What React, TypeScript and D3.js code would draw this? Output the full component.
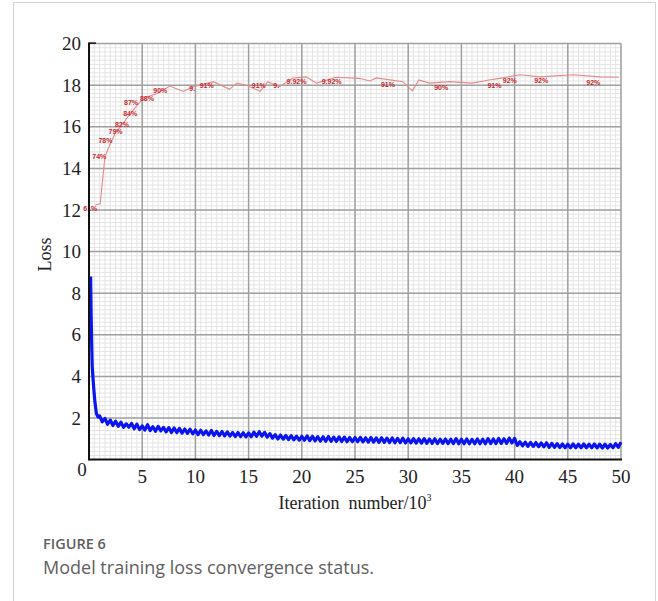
import React, { useEffect, useRef } from "react";
import * as d3 from "d3";

// loss curve: steep drop at the start, then a noisy tail sampled every 0.25k iterations
const headIter = [0.15, 0.2, 0.25, 0.3, 0.35, 0.45, 0.55, 0.7, 0.85];
const headLoss = [8.8, 7.0, 5.6, 4.5, 4.1, 3.4, 2.8, 2.2, 2.05];
const tailStart = 1.0;
const tailStep = 0.25;
const tailLoss = [
  2.1, 1.82, 1.98, 1.7, 1.9, 1.64, 1.85, 1.6, 1.8, 1.55, 1.72, 1.56, 1.74, 1.48, 1.7, 1.44,
  1.62, 1.42, 1.68, 1.4, 1.58, 1.36, 1.6, 1.38, 1.55, 1.33, 1.54, 1.3, 1.52, 1.3, 1.5, 1.27,
  1.47, 1.26, 1.46, 1.24, 1.42, 1.2, 1.41, 1.2, 1.38, 1.18, 1.4, 1.16, 1.36, 1.15, 1.35, 1.14,
  1.33, 1.13, 1.3, 1.11, 1.3, 1.1, 1.29, 1.09, 1.28, 1.1, 1.32, 1.12, 1.34, 1.13, 1.31, 1.08,
  1.25, 1.03, 1.2, 0.99, 1.18, 0.98, 1.16, 0.96, 1.15, 0.95, 1.13, 0.93, 1.12, 0.93, 1.14, 0.91,
  1.12, 0.9, 1.1, 0.89, 1.1, 0.88, 1.11, 0.88, 1.08, 0.87, 1.09, 0.87, 1.08, 0.86, 1.06, 0.86,
  1.06, 0.86, 1.07, 0.85, 1.05, 0.84, 1.06, 0.84, 1.04, 0.83, 1.05, 0.83, 1.03, 0.82, 1.04, 0.81,
  1.02, 0.81, 1.03, 0.8, 1.0, 0.8, 1.01, 0.79, 1.0, 0.79, 1.01, 0.78, 0.99, 0.78, 1.0, 0.77,
  0.98, 0.78, 0.99, 0.77, 0.98, 0.77, 1.01, 0.76, 0.98, 0.76, 0.99, 0.76, 0.97, 0.76, 0.99, 0.76,
  0.98, 0.76, 1.01, 0.77, 0.99, 0.77, 1.02, 0.78, 1.0, 0.78, 1.03, 0.8, 1.02, 0.68, 0.86, 0.66,
  0.84, 0.64, 0.83, 0.63, 0.82, 0.62, 0.8, 0.61, 0.81, 0.59, 0.78, 0.59, 0.76, 0.58, 0.75, 0.57,
  0.74, 0.57, 0.75, 0.57, 0.74, 0.57, 0.75, 0.57, 0.74, 0.57, 0.75, 0.56, 0.74, 0.56, 0.74, 0.56,
  0.73, 0.57, 0.77, 0.59, 0.84,
];

// accuracy trace drawn on the loss scale
const accIter = [
  0.6, 1.05, 1.5, 2.0, 2.5, 3.1, 3.9, 4.8, 5.5, 6.4, 7.6, 8.85, 9.8, 11.7, 13.2, 13.9, 14.8,
  16.1, 16.8, 17.9, 19.2, 20.4, 21.4, 23.2, 25.4, 26.4, 27.0, 29.5, 30.4, 31.0, 32.0, 33.9,
  36.0, 37.6, 38.6, 40.5, 42.4, 45.5, 48.0, 49.8,
];
const accVal = [
  12.25, 12.3, 14.56, 15.2, 15.7, 16.1, 16.65, 17.2, 17.45, 17.6, 17.96, 17.7, 17.93, 18.17,
  17.8, 18.1, 18.0, 17.7, 18.17, 17.93, 18.35, 18.4, 18.1, 18.38, 18.33, 18.2, 18.35, 18.17,
  17.73, 18.25, 18.1, 18.17, 18.1, 18.25, 18.33, 18.5, 18.4, 18.5, 18.4, 18.38,
];

const accLabels = [
  "61%", "74%", "78%", "79%", "82%", "84%", "87%", "88%", "90%", "9.", "91%", "91%", "9.",
  "9.92%", "9.92%", "91%", "90%", "91%", "92%", "92%", "92%",
];
const accLabelX = [
  0.12, 0.97, 1.55, 2.5, 3.1, 3.87, 3.95, 5.45, 6.7, 9.7, 11.06, 15.96, 17.6, 19.5, 22.8, 28.1,
  33.1, 38.1, 39.55, 42.5, 47.4,
];
const accLabelY = [
  12.03, 14.55, 15.3, 15.72, 16.1, 16.6, 17.16, 17.33, 17.72, 17.82, 17.93, 17.96, 17.95,
  18.17, 18.17, 18.0, 17.85, 17.96, 18.2, 18.2, 18.12,
];

const xTicks = [5, 10, 15, 20, 25, 30, 35, 40, 45, 50];
const yTicks = [2, 4, 6, 8, 10, 12, 14, 16, 18, 20];

const App = () => {
  const ref = useRef<SVGSVGElement | null>(null);

  useEffect(() => {
    const width = 658;
    const height = 601;
    const left = 89;
    const right = 621;
    const top = 43.6;
    const bottom = 459.6;

    const svg = d3.select(ref.current);
    svg.selectAll("*").remove();

    const x = d3.scaleLinear().domain([0, 50]).range([left, right]);
    const y = d3.scaleLinear().domain([0, 20]).range([bottom, top]);

    // outer frame
    svg
      .append("rect")
      .attr("x", 13.5)
      .attr("y", 2.5)
      .attr("width", 642)
      .attr("height", height + 20)
      .attr("fill", "white")
      .attr("stroke", "#d4d4d4");

    // minor grid
    const grid = svg.append("g");
    grid
      .selectAll(".vx")
      .data(d3.range(0, 50.01, 0.5))
      .join("line")
      .attr("x1", (d) => x(d))
      .attr("x2", (d) => x(d))
      .attr("y1", top)
      .attr("y2", bottom)
      .attr("stroke", "#e4e4e4")
      .attr("stroke-width", 1);
    grid
      .selectAll(".hy")
      .data(d3.range(0, 20.01, 0.2))
      .join("line")
      .attr("x1", left)
      .attr("x2", right)
      .attr("y1", (d) => y(d))
      .attr("y2", (d) => y(d))
      .attr("stroke", "#e4e4e4")
      .attr("stroke-width", 1);

    // major grid
    grid
      .selectAll(".mx")
      .data(xTicks)
      .join("line")
      .attr("x1", (d) => x(d))
      .attr("x2", (d) => x(d))
      .attr("y1", top)
      .attr("y2", bottom)
      .attr("stroke", "#a0a0a0")
      .attr("stroke-width", 1.5);
    grid
      .selectAll(".my")
      .data(yTicks)
      .join("line")
      .attr("x1", left)
      .attr("x2", right)
      .attr("y1", (d) => y(d))
      .attr("y2", (d) => y(d))
      .attr("stroke", "#a0a0a0")
      .attr("stroke-width", 1.5);

    // loss line
    const lossPts: [number, number][] = headIter.map((d, i) => [d, headLoss[i]]);
    tailLoss.forEach((v, i) => lossPts.push([tailStart + i * tailStep, v]));
    svg
      .append("path")
      .datum(lossPts)
      .attr("fill", "none")
      .attr("stroke", "#0a14f0")
      .attr("stroke-width", 3.2)
      .attr("stroke-linejoin", "round")
      .attr(
        "d",
        d3
          .line<[number, number]>()
          .x((d) => x(d[0]))
          .y((d) => y(d[1]))
      );

    // accuracy line
    svg
      .append("path")
      .datum(accIter.map((d, i) => [d, accVal[i]] as [number, number]))
      .attr("fill", "none")
      .attr("stroke", "#e58a8a")
      .attr("stroke-width", 1.1)
      .attr(
        "d",
        d3
          .line<[number, number]>()
          .x((d) => x(d[0]))
          .y((d) => y(d[1]))
      );

    svg
      .append("g")
      .selectAll("text")
      .data(accLabels)
      .join("text")
      .attr("x", (d, i) => x(accLabelX[i]))
      .attr("y", (d, i) => y(accLabelY[i]))
      .attr("text-anchor", "middle")
      .attr("dominant-baseline", "middle")
      .attr("font-family", "Liberation Sans, Arial, sans-serif")
      .attr("font-weight", "bold")
      .attr("font-size", 7)
      .attr("fill", "#c8262c")
      .text((d) => d);

    // axes
    svg
      .append("line")
      .attr("x1", left)
      .attr("x2", left)
      .attr("y1", top - 1)
      .attr("y2", bottom + 1)
      .attr("stroke", "#111")
      .attr("stroke-width", 2);
    svg
      .append("line")
      .attr("x1", left)
      .attr("x2", left + 7)
      .attr("y1", top - 0.5)
      .attr("y2", top - 0.5)
      .attr("stroke", "#111")
      .attr("stroke-width", 1.5);
    svg
      .append("line")
      .attr("x1", left)
      .attr("x2", right + 1)
      .attr("y1", bottom)
      .attr("y2", bottom)
      .attr("stroke", "#111")
      .attr("stroke-width", 2);

    const serif = "Liberation Serif, Times New Roman, serif";

    svg
      .append("g")
      .selectAll("text")
      .data(yTicks)
      .join("text")
      .attr("x", left - 8)
      .attr("y", (d) => y(d) + 6.5)
      .attr("text-anchor", "end")
      .attr("font-family", serif)
      .attr("font-size", 19)
      .attr("fill", "#222")
      .text((d) => d);

    svg
      .append("g")
      .selectAll("text")
      .data(xTicks)
      .join("text")
      .attr("x", (d) => x(d))
      .attr("y", bottom + 23)
      .attr("text-anchor", "middle")
      .attr("font-family", serif)
      .attr("font-size", 19)
      .attr("fill", "#222")
      .text((d) => d);

    svg
      .append("text")
      .attr("x", left - 7)
      .attr("y", bottom + 16)
      .attr("text-anchor", "middle")
      .attr("font-family", serif)
      .attr("font-size", 19)
      .attr("fill", "#222")
      .text("0");

    // axis titles
    svg
      .append("text")
      .attr("transform", `translate(51,${(top + bottom) / 2 + 3}) rotate(-90)`)
      .attr("text-anchor", "middle")
      .attr("font-family", serif)
      .attr("font-size", 18)
      .attr("fill", "#222")
      .text("Loss");

    const xl = svg
      .append("text")
      .attr("x", 355)
      .attr("y", 509)
      .attr("text-anchor", "middle")
      .attr("font-family", serif)
      .attr("font-size", 18)
      .attr("fill", "#222");
    xl.append("tspan").text("Iteration\u00a0\u00a0number/10");
    xl.append("tspan").attr("font-size", 10).attr("dy", -8).text("3");

    // caption
    svg
      .append("text")
      .attr("x", 43)
      .attr("y", 549)
      .attr("font-family", "Open Sans, sans-serif")
      .attr("font-size", 14.5)
      .attr("font-weight", 600)
      .attr("fill", "#606060")
      .text("FIGURE 6");
    svg
      .append("text")
      .attr("x", 43)
      .attr("y", 574)
      .attr("font-family", "Open Sans, sans-serif")
      .attr("font-size", 18)
      .attr("fill", "#606060")
      .text("Model training loss convergence status.");

    svg.attr("width", width).attr("height", height);
  }, []);

  return (
    <svg
      ref={ref}
      width={658}
      height={601}
      style={{ position: "absolute", left: 0, top: 0, background: "white" }}
    />
  );
};

export default App;
